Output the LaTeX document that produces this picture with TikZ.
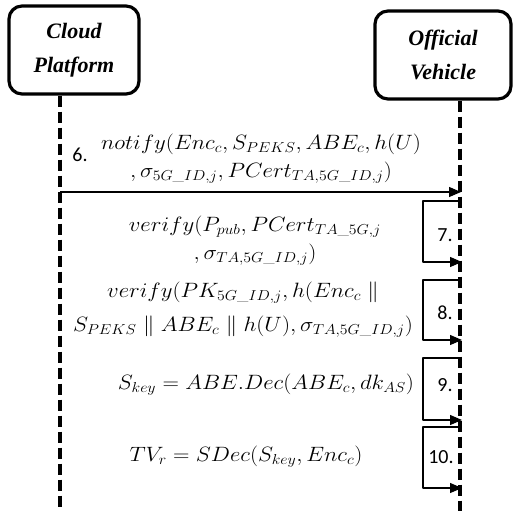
\documentclass[tikz,border=0pt]{standalone}
\usepackage[no-math]{fontspec}
\usepackage{amsmath}
\usetikzlibrary{arrows.meta}
\newfontfamily\actorfont{Liberation Serif}
\newfontfamily\stepfont{Carlito}

\begin{document}
\begin{tikzpicture}[x=1pt, y=-1pt, line join = round,
  actor/.style={draw, line width=3.2pt, rounded corners=13pt, align=center,
    minimum width=130pt, minimum height=88pt,
    font=\actorfont\bfseries\itshape\fontsize{22}{34}\selectfont},
  life/.style={line width=3.2pt, dash pattern=on 11pt off 5pt},
  msg/.style={line width=1.1pt, -{Triangle[length=12pt,width=10pt]}},
  calc/.style={align=center, inner sep=0pt, xscale=1.1, transform shape,
    font=\fontsize{20}{28}\selectfont},
  stepno/.style={inner sep=0pt, font=\stepfont\fontsize{20}{22}\selectfont}]
\useasboundingbox (0,0) rectangle (514,511);

% the two parties
\node[actor] (cp) at (74,50) {Cloud\\Platform};
\node[actor, minimum width=136pt] (ov) at (443,55) {Official\\Vehicle};

% lifelines
\coordinate [] (cpEnd) at (60,511);
\coordinate [] (ovEnd) at (460,511);
\draw[life] (cp.south -| cpEnd) -- (cpEnd);
\draw[life] (ov.south -| ovEnd) -- (ovEnd);

% step 6: cloud -> vehicle
\coordinate [] (m6s) at (60,192);
\coordinate [] (m6e) at (461,192);
\draw[msg] (m6s) -- (m6e);
\node[stepno] (s6) at (80,155) {6.};
\node[calc] (t6) at (261,159)
  {$notify(Enc_c, S_{PEKS}, ABE_c, h(U)$\\
   $,\sigma_{5G\_ID,j}, PCert_{TA,5G\_ID,j})$};

% steps 7-10: checks done on the vehicle
\foreach \n/\top/\bot in {7/201/262, 8/280/340, 9/358/420, 10/427/488} {
  \coordinate [] (m\n s) at (460,\top);
  \coordinate [] (m\n e) at (462,\bot);
  \draw[msg] (m\n s) -- (423,\top) |- (m\n e);
}
\node[stepno] (s7) at (445,235) {7.};
\node[stepno] (s8) at (445,313) {8.};
\node[stepno] (s9) at (445,385) {9.};
\node[stepno] (s10) at (441,457) {10.};

\node[calc] (t7) at (255,241)
  {$verify(P_{pub}, PCert_{TA\_5G,j}$\\
   $,\sigma_{TA,5G\_ID,j})$};
\node[calc] (t8) at (243,310)
  {$verify(PK_{5G\_ID,j}, h(Enc_c \parallel$\\[6pt]
   $S_{PEKS} \parallel ABE_c \parallel h(U), \sigma_{TA,5G\_ID,j})$};
\node[calc] (t9) at (266,385) {$S_{key} = ABE.Dec(ABE_c, dk_{AS})$};
\node[calc] (t10) at (246,457) {$TV_r = SDec(S_{key}, Enc_c)$};
\end{tikzpicture}
\end{document}
